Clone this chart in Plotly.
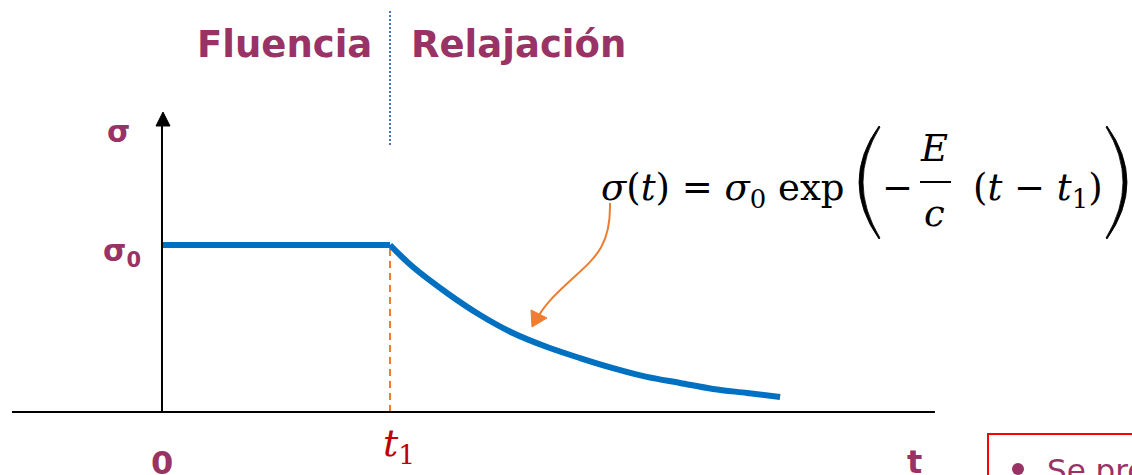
import plotly.graph_objects as go

# ---------------- data ----------------
t_hold = [0.0, 1.0]
sigma_hold = [1.0, 1.0]
t_relax = [1.0, 1.101, 1.25, 1.395, 1.539, 1.689, 1.833, 1.978, 2.127, 2.272, 2.417, 2.566, 2.711]
sigma_relax = [1.0, 0.868, 0.713, 0.581, 0.473, 0.389, 0.323, 0.263, 0.210, 0.174, 0.138, 0.114, 0.090]
t1 = 1.0
sigma0 = 1.0
axis_t_range = [-0.658, 3.39]
axis_sigma_top = 1.79
x_range = [-0.7105, 4.2544]
y_range = [-0.3772, 2.4671]

W, H = 1132, 475
PURPLE = "#993366"
BLUE = "#0070C0"
ORANGE = "#ED7D31"
RED = "#C00000"


def px(x):
    return x / W


def py(y):
    return 1 - y / H


def P(x, y):
    return f"{px(x):.5f},{py(y):.5f}"


fig = go.Figure()
fig.add_trace(go.Scatter(x=t_hold, y=sigma_hold, mode="lines",
                         line=dict(color=BLUE, width=6), hoverinfo="skip"))
fig.add_trace(go.Scatter(x=t_relax, y=sigma_relax, mode="lines",
                         line=dict(color=BLUE, width=6, shape="spline", smoothing=1.0), hoverinfo="skip"))

shapes = []
# horizontal axis
shapes.append(dict(type="line", xref="x", yref="y", x0=axis_t_range[0], x1=axis_t_range[1],
                   y0=0, y1=0, line=dict(color="black", width=2.2)))
# vertical axis line
shapes.append(dict(type="line", xref="x", yref="y", x0=0, x1=0, y0=0, y1=axis_sigma_top - 0.06,
                   line=dict(color="black", width=2)))
# orange dashed at t1
shapes.append(dict(type="line", xref="x", yref="y", x0=t1, x1=t1, y0=0, y1=sigma0,
                   line=dict(color=ORANGE, width=2, dash="7px,5px"), layer="below"))
# blue dotted separator
shapes.append(dict(type="line", xref="x", yref="paper", x0=t1, x1=t1, y0=py(145), y1=py(10),
                   line=dict(color="#4472C4", width=2, dash="2px,2px")))
# arrowhead of vertical axis
shapes.append(dict(type="path", xref="paper", yref="paper",
                   path=f"M {P(163,112)} L {P(156,126)} L {P(170,126)} Z",
                   fillcolor="black", line=dict(color="black", width=1)))
# big parentheses of the formula
shapes.append(dict(type="path", xref="paper", yref="paper",
                   path=f"M {P(879,126)} Q {P(839,182)} {P(879,239)} L {P(880,238)} Q {P(846,182)} {P(880,127)} Z",
                   fillcolor="black", line=dict(color="black", width=0.8)))
shapes.append(dict(type="path", xref="paper", yref="paper",
                   path=f"M {P(1107,126)} Q {P(1147,182)} {P(1107,239)} L {P(1106,238)} Q {P(1140,182)} {P(1106,127)} Z",
                   fillcolor="black", line=dict(color="black", width=0.8)))
# fraction bar
shapes.append(dict(type="line", xref="paper", yref="paper", x0=px(920), x1=px(951),
                   y0=py(182), y1=py(182), line=dict(color="black", width=2)))
# orange curly arrow
shapes.append(dict(type="path", xref="paper", yref="paper",
                   path=f"M {P(610,203)} C {P(611,245)} {P(596,257)} {P(572,279)} S {P(545,306)} {P(539,315)}",
                   line=dict(color=ORANGE, width=2)))
shapes.append(dict(type="path", xref="paper", yref="paper",
                   path=f"M {P(532,327)} L {P(531,310)} L {P(547,318)} Z",
                   fillcolor=ORANGE, line=dict(color=ORANGE, width=1)))
# red box bottom right
shapes.append(dict(type="rect", xref="paper", yref="paper", x0=px(988), x1=px(1150),
                   y0=py(500), y1=py(434), line=dict(color="#FF0000", width=2)))
# bullet
shapes.append(dict(type="circle", xref="paper", yref="paper", x0=px(1012), x1=px(1024),
                   y0=py(475), y1=py(463), fillcolor=PURPLE, line=dict(width=0)))

SANS = "DejaVu Sans"
SERIF = "DejaVu Serif"


def ann(text, x, y, size, color="black", family=SANS, xanchor="center", yanchor="middle"):
    return dict(text=text, x=px(x), y=py(y), xref="paper", yref="paper", showarrow=False,
                xanchor=xanchor, yanchor=yanchor, font=dict(size=size, color=color, family=family))


annotations = [
    ann("<b>Fluencia</b>", 284, 45, 37, PURPLE),
    ann("<b>Relajación</b>", 518, 45, 37, PURPLE),
    ann("<b>σ</b>", 118, 131, 30, PURPLE),
    ann("<b>σ<sub>0</sub></b>", 143, 252, 30, PURPLE, xanchor="right"),
    ann("<b>0</b>", 162, 463, 32, PURPLE),
    ann("<b>t</b>", 914, 462, 32, PURPLE),
    ann("<i>t</i><sub>1</sub>", 381, 445, 38, RED, family=SERIF, xanchor="left"),
    ann("<i>σ</i>(<i>t</i>) = <i>σ</i><sub>0</sub> exp", 599, 190, 37, family=SERIF, xanchor="left"),
    ann("−", 897, 187, 37, family=SERIF),
    ann("<i>E</i>", 934, 148, 37, family=SERIF),
    ann("<i>c</i>", 934, 213, 37, family=SERIF),
    ann("(<i>t</i> − <i>t</i><sub>1</sub>)", 971, 190, 37, family=SERIF, xanchor="left"),
    ann("Se produce", 1045, 470, 31, PURPLE, xanchor="left"),
]

fig.update_layout(
    width=W, height=H,
    margin=dict(l=0, r=0, t=0, b=0),
    paper_bgcolor="white", plot_bgcolor="white",
    showlegend=False,
    xaxis=dict(range=x_range, visible=False, fixedrange=True),
    yaxis=dict(range=y_range, visible=False, fixedrange=True),
    shapes=shapes,
    annotations=annotations,
)

fig.write_html("out.html", config={"displayModeBar": False},
               post_script="document.body.style.margin='0';document.body.style.overflow='hidden';")
